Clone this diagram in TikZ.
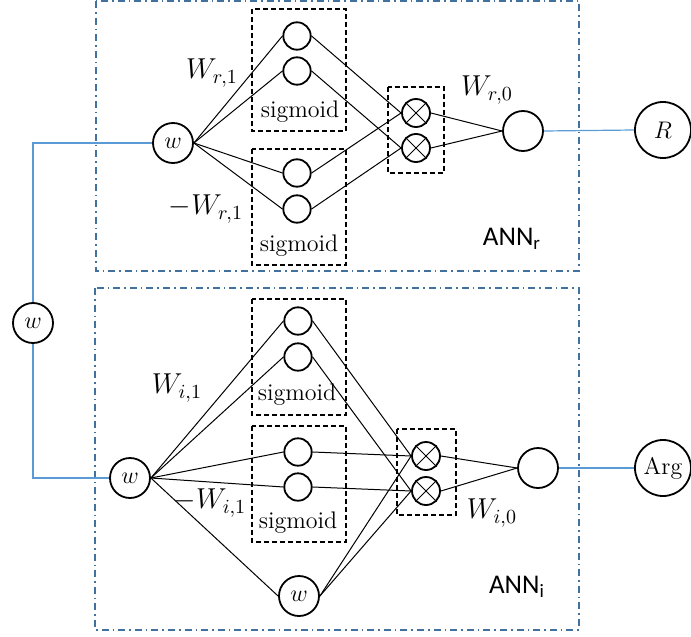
\documentclass[tikz,border=0pt]{standalone}
\usepackage{fontspec}
\newfontfamily\annfont{Carlito}
\usepackage{tikz}
\definecolor{annblue}{RGB}{65,113,156}
\definecolor{wireblue}{RGB}{91,155,213}
\begin{document}
\begin{tikzpicture}[x=0.5pt, y=-0.5pt, font=\fontsize{12}{14}\selectfont,
  bigunit/.style={circle, draw, line width=0.9pt, minimum size=20pt, inner sep=0pt, font=\fontsize{13}{15}\selectfont},
  sigunit/.style={circle, draw, line width=0.9pt, minimum size=13.7pt, inner sep=0pt},
  produnit/.style={circle, draw, line width=0.9pt, minimum size=14pt, inner sep=0pt},
  outunit/.style={circle, draw, line width=0.9pt, minimum size=28pt, inner sep=0pt},
  weight/.style={font=\fontsize{14}{16}\selectfont},
  annlabel/.style={font=\annfont\fontsize{13.5}{16}\selectfont},
  sigbox/.style={draw, line width=0.75pt, dash pattern=on 2.5pt off 1.5pt},
  annbox/.style={draw=annblue, line width=0.8pt, dash pattern=on 3.5pt off 2pt on 0.8pt off 2pt},
  link/.style={line width=0.5pt},
  wire/.style={draw=wireblue, line width=0.6pt}]
  \useasboundingbox (0,0) rectangle (691,637);

  % ---------- outer boxes ----------
  \draw[annbox] (96,1) rectangle (579,271);
  \draw[annbox] (95,288) rectangle (579,630);

  % ---------- input / outputs ----------
  \node[bigunit] (win) at (33,323) {$w$};
  \node[outunit] (R)   at (663,130) {$R$};
  \node[outunit] (Arg) at (663,468) {Arg};

  % ===== ANN_r (real part) =====
  \node[bigunit] (wr) at (173,143) {$w$};
  \draw[sigbox] (252,9) rectangle (346,131);
  \draw[sigbox] (252,149) rectangle (346,265);
  \node[sigunit] (sr1) at (297,36) {};
  \node[sigunit] (sr2) at (297,71) {};
  \node[sigunit] (sr3) at (297,173) {};
  \node[sigunit] (sr4) at (297,209) {};
  \node (sigr1) at (300,112) {sigmoid};
  \node (sigr2) at (299,246) {sigmoid};
  % product stage
  \draw[sigbox] (388,87) rectangle (444,173);
  \node[produnit] (pr1) at (416,113) {};
  \node[produnit] (pr2) at (416,148) {};
  \foreach \p in {pr1,pr2}{
    \draw[link] (\p.north west) -- (\p.south east);
    \draw[link] (\p.north east) -- (\p.south west);
  }
  \node[bigunit] (outr) at (523,131) {};
  % weights
  \node[weight] (wr1)  at (212,73)  {$W_{r,1}$};
  \node[weight] (mwr1) at (206,209) {$-W_{r,1}$};
  \node[weight] (wr0)  at (487,90)  {$W_{r,0}$};
  \node[annlabel] (annr) at (512,239) {ANN\textsubscript{r}};
  % connections
  \foreach \n in {1,...,4}{ \draw[link] (wr.east) -- (sr\n.west); }
  \draw[link] (sr1.east) -- (pr1.west);
  \draw[link] (sr2.east) -- (pr2.west);
  \draw[link] (sr3.east) -- (pr1.west);
  \draw[link] (sr4.east) -- (pr2.west);
  \draw[link] (pr1.east) -- (outr.west);
  \draw[link] (pr2.east) -- (outr.west);

  % ===== ANN_i (imaginary part) =====
  \node[bigunit] (wi) at (130,478) {$w$};
  \draw[sigbox] (252,299) rectangle (346,415);
  \draw[sigbox] (252,426) rectangle (346,542);
  \node[sigunit] (si1) at (298,321) {};
  \node[sigunit] (si2) at (298,357) {};
  \node[sigunit] (si3) at (298,452) {};
  \node[sigunit] (si4) at (298,487) {};
  \node (sigi1) at (297,395) {sigmoid};
  \node (sigi2) at (298,523) {sigmoid};
  \node[bigunit] (wib) at (299,596) {$w$};
  % product stage
  \draw[sigbox] (397,429) rectangle (456,515);
  \node[produnit] (pi1) at (426,456) {};
  \node[produnit] (pi2) at (426,491) {};
  \foreach \p in {pi1,pi2}{
    \draw[link] (\p.north west) -- (\p.south east);
    \draw[link] (\p.north east) -- (\p.south west);
  }
  \node[bigunit] (outi) at (538,468) {};
  % weights
  \node[weight] (wi1)  at (177,388) {$W_{i,1}$};
  \node[weight] (mwi1) at (210,503) {$-W_{i,1}$};
  \node[weight] (wi0)  at (492,513) {$W_{i,0}$};
  \node[annlabel] (anni) at (517,587) {ANN\textsubscript{i}};
  % connections
  \foreach \n in {1,...,4}{ \draw[link] (wi.east) -- (si\n.west); }
  \draw[link] (wi.east) -- (wib.west);
  \draw[link] (si1.east) -- (pi1.west);
  \draw[link] (si2.east) -- (pi2.west);
  \draw[link] (si3.east) -- (pi1.west);
  \draw[link] (si4.east) -- (pi2.west);
  \draw[link] (wib.east) -- (pi1.west);
  \draw[link] (wib.east) -- (pi2.west);
  \draw[link] (pi1.east) -- (outi.west);
  \draw[link] (pi2.east) -- (outi.west);

  % ---------- blue wires ----------
  \draw[wire] (win.north) |- (wr.west);
  \draw[wire] (win.south) |- (wi.west);
  \draw[wire] (outr.east) -- (R.west);
  \draw[wire] (outi.east) -- (Arg.west);

\end{tikzpicture}
\end{document}
